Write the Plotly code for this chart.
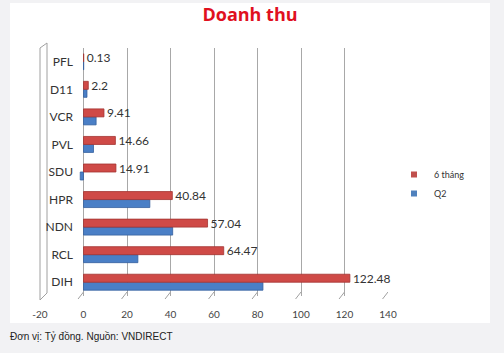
import plotly.graph_objects as go

categories = ["DIH", "RCL", "NDN", "HPR", "SDU", "PVL", "VCR", "D11", "PFL"]
six_months = [122.48, 64.47, 57.04, 40.84, 14.91, 14.66, 9.41, 2.2, 0.13]
q2 = [82.5, 25.0, 41.0, 30.5, -1.5, 4.6, 5.8, 1.6, 0.1]
x_ticks = [-20, 0, 20, 40, 60, 80, 100, 120, 140]

W, H = 504, 353
L, R, T, B = 40, 116, 48, 57
pw, ph = W - L - R, H - T - B

def px_x(px):
    return (px - L) / pw

def px_y(py):
    return 1 - (py - T) / ph

RED = "#cf4a47"
BLUE = "#4a7fc6"
FONT = "Lato, Open Sans, sans-serif"

fig = go.Figure()
fig.add_trace(go.Bar(
    y=categories, x=q2, name="Q2", orientation="h", showlegend=False,
    marker=dict(color=BLUE, line=dict(color="#36619e", width=0.8)),
))
fig.add_trace(go.Bar(
    y=categories, x=six_months, name="6 tháng", orientation="h", showlegend=False,
    marker=dict(color=RED, line=dict(color="#a33331", width=0.8)),
    text=[f"{v:g}" for v in six_months], textposition="outside",
    constraintext="none",
    textfont=dict(family=FONT, size=12, color="#333333"),
    cliponaxis=False,
))
fig.add_trace(go.Scatter(x=[None], y=[None], mode="markers", name="Q2",
                         marker=dict(symbol="square", size=6, color="#4f81bd")))
fig.add_trace(go.Scatter(x=[None], y=[None], mode="markers", name="6 tháng",
                         marker=dict(symbol="square", size=6, color="#c0504d")))

shapes = [
    dict(type="rect", xref="paper", yref="paper", layer="below",
         x0=px_x(10), x1=px_x(490), y0=px_y(323), y1=px_y(3),
         fillcolor="white", line=dict(width=0)),
    dict(type="path", xref="paper", yref="paper", layer="below",
         path=f"M {px_x(40)} {px_y(300)} L {px_x(40)} {px_y(48)} L {px_x(47)} {px_y(43)} L {px_x(47)} {px_y(293)} Z",
         fillcolor="white", line=dict(color="#a0a0a0", width=1)),
]
for v in x_ticks[1:]:
    shapes.append(dict(type="line", xref="x", yref="paper", layer="below",
                       x0=v, x1=v - 2.5, y0=px_y(292), y1=px_y(299),
                       line=dict(color="#a0a0a0", width=1)))

fig.update_layout(
    width=W, height=H,
    margin=dict(l=L, r=R, t=T, b=B, autoexpand=False),
    paper_bgcolor="#f2f2f4",
    plot_bgcolor="rgba(0,0,0,0)",
    barmode="group", bargap=0.42, bargroupgap=0.0,
    title=dict(text="<b>Doanh thu</b>", x=250 / W, xanchor="center",
               y=1 - 15 / H, yanchor="middle", xref="container", yref="container",
               font=dict(family="Open Sans, sans-serif", size=18, color="#e0101e")),
    xaxis=dict(range=[-20, 140], tickvals=x_ticks, ticktext=[str(v) for v in x_ticks],
               showgrid=True, gridcolor="#a8a8a8", gridwidth=1,
               zeroline=False, showline=False,
               ticks="outside", ticklen=9, tickcolor="rgba(0,0,0,0)",
               tickfont=dict(family=FONT, size=10, color="#444444"),
               fixedrange=True),
    yaxis=dict(type="category", categoryorder="array", categoryarray=categories,
               anchor="free", position=px_x(73),
               showgrid=False, showline=False, zeroline=False,
               ticks="", tickfont=dict(family=FONT, size=12, color="#333333"),
               fixedrange=True),
    legend=dict(xref="container", yref="container", x=394 / W, y=1 - 160 / H,
                xanchor="left", yanchor="top", traceorder="reversed",
                bgcolor="rgba(0,0,0,0)",
                font=dict(family=FONT, size=9, color="#333333"),
                itemwidth=30, tracegroupgap=2),
    shapes=shapes,
    annotations=[dict(text="Đơn vị: Tỷ đồng. Nguồn: VNDIRECT", xref="paper", yref="paper",
                      x=px_x(8), y=px_y(336), xanchor="left", yanchor="middle",
                      showarrow=False,
                      font=dict(family="Liberation Sans, Arial, sans-serif", size=10, color="#222222"))],
    showlegend=True,
)

fig.write_html("out.html")
